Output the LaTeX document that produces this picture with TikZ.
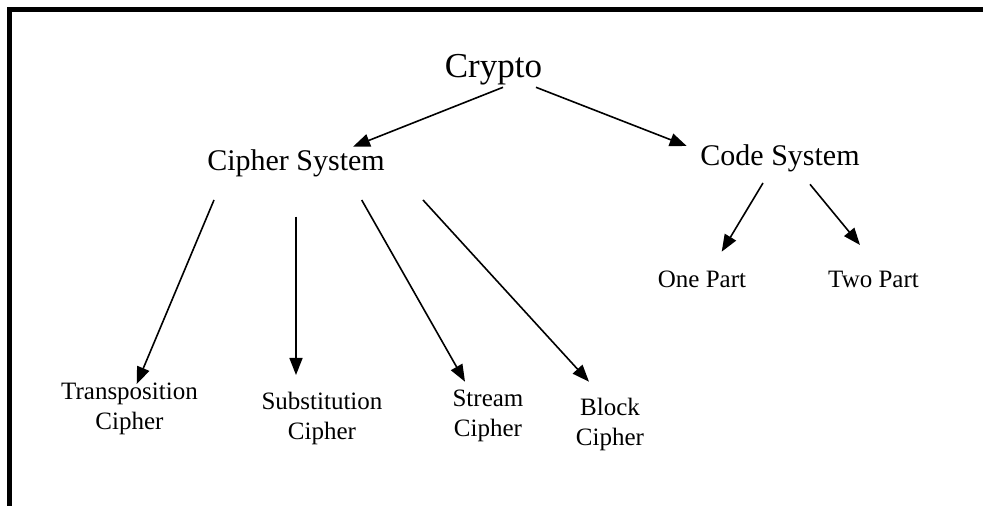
\documentclass[tikz,border=0pt]{standalone}
\usepackage{fontspec}
\setmainfont{Liberation Serif}
\usetikzlibrary{arrows.meta,calc}
\tikzset{
    every picture/.style={
        line width=1.6pt
    },
    % Styles for the tree labels
    top label/.style={
        font=\fontsize{35}{42}\selectfont,
        inner sep=0pt, anchor=base
    },
    system label/.style={
        font=\fontsize{30}{36}\selectfont,
        inner sep=0pt, anchor=base
    },
    leaf label/.style={
        font=\fontsize{25}{30}\selectfont,
        inner sep=0pt, anchor=base, align=center
    },
    tree arrow/.style={
        -{Triangle[length=17pt,width=13pt]}
    }
}

\begin{document}
\begin{tikzpicture}[x=1pt,y=1pt]

% Set the canvas size
\path[use as bounding box] (0,0) rectangle (983,506);

% Frame on the top and left
\draw[line width=5.6pt, line join=miter] (9.5,0) -- (9.5,496.5) -- (983,496.5);

% Labels (two-line labels sit on the baseline of their last line)
\node[top label] (crypto) at (493.5,428) {Crypto};

\node[system label] (cipher) at (296,335.5) {Cipher System};
\node[system label] (code) at (780,340) {Code System};

\node[leaf label] (onepart) at (702,218.7) {One Part};
\node[leaf label] (twopart) at (873.5,218.7) {Two Part};

\node[leaf label] (trans) at (129.5,76.7) {Transposition\\Cipher};
\node[leaf label] (subst) at (322,66) {Substitution\\Cipher};
\node[leaf label] (stream) at (488,69.3) {Stream\\Cipher};
\node[leaf label] (block) at (610,60) {Block\\Cipher};

% Arrows
\draw[tree arrow] ($(crypto.base)+(9.5,-9.3)$) -- ($(cipher.base)+(57,23.8)$);
\draw[tree arrow] ($(crypto.base)+(42.5,-9.3)$) -- ($(code.base)+(-93.3,20)$);

\draw[tree arrow] ($(cipher.base)+(-82,-29.5)$) -- ($(trans.base)+(7.2,45.3)$);
\draw[tree arrow] ($(cipher.base)+(0,-46.2)$) -- ($(subst.base)+(-26,65)$);
\draw[tree arrow] ($(cipher.base)+(65.7,-29.5)$) -- ($(stream.base)+(-23,55)$);
\draw[tree arrow] ($(cipher.base)+(127,-29.5)$) -- ($(block.base)+(-21,64.3)$);

\draw[tree arrow] ($(code.base)+(-17,-17)$) -- ($(onepart.base)+(19.7,35.6)$);
\draw[tree arrow] ($(code.base)+(30,-18.3)$) -- ($(twopart.base)+(-13.5,42.3)$);

\end{tikzpicture}
\end{document}
